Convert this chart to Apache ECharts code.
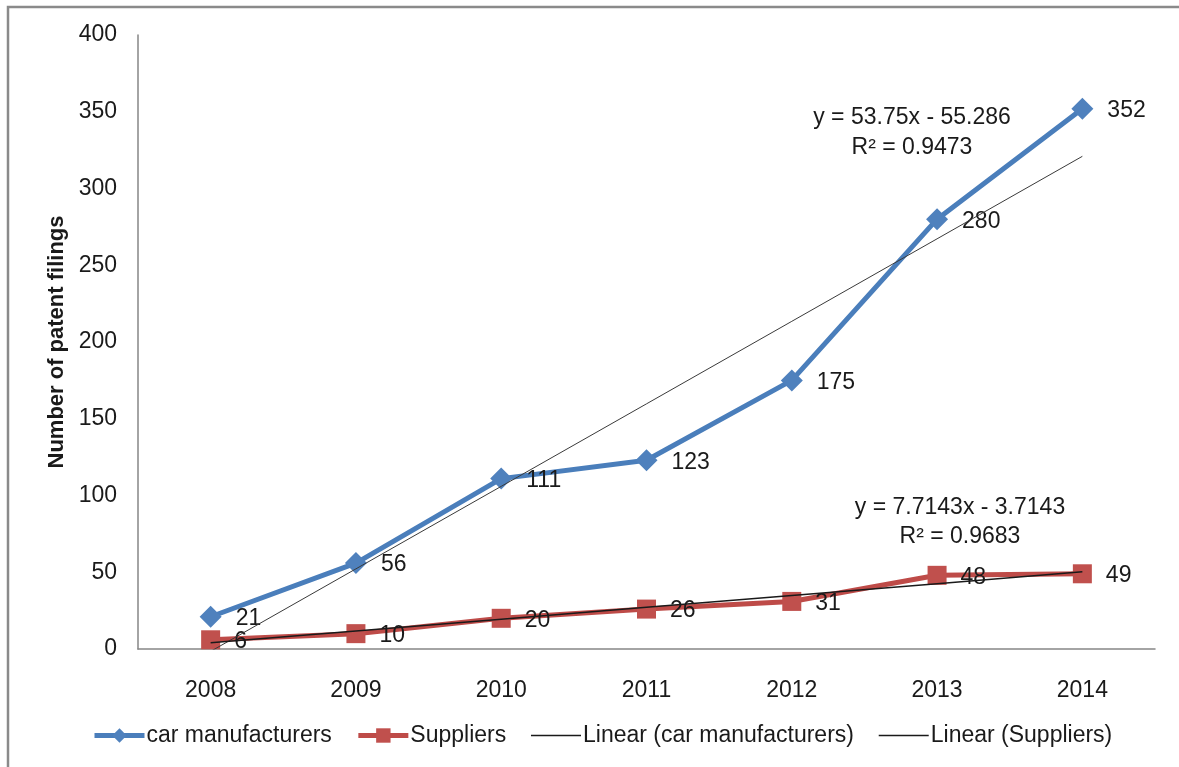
<!DOCTYPE html>
<html>
<head>
<meta charset="utf-8">
<script src="https://cdn.jsdelivr.net/npm/echarts@6/dist/echarts.min.js"></script>
<style>
html,body{margin:0;padding:0;background:#fff;}
#chart{width:1179px;height:767px;}
</style>
</head>
<body>
<div id="chart"></div>
<script>
const years = ['2008','2009','2010','2011','2012','2013','2014'];
const carManufacturers = [21, 56, 111, 123, 175, 280, 352];
const suppliers = [6, 10, 20, 26, 31, 48, 49];
const seriesNames = ['car manufacturers', 'Suppliers', 'Linear (car manufacturers)', 'Linear (Suppliers)'];
const carTrendText = ['y = 53.75x - 55.286', 'R² = 0.9473'];
const supTrendText = ['y = 7.7143x - 3.7143', 'R² = 0.9683'];
const yTicks = {min: 0, max: 400, interval: 50};

// least-squares linear trend (as the spreadsheet's "Linear" trendline)
function linearTrend(vals) {
  const n = vals.length;
  const xs = vals.map((_, i) => i + 1);
  const mx = xs.reduce((a, b) => a + b, 0) / n;
  const my = vals.reduce((a, b) => a + b, 0) / n;
  let sxy = 0, sxx = 0;
  xs.forEach((x, i) => { sxy += (x - mx) * (vals[i] - my); sxx += (x - mx) * (x - mx); });
  const slope = sxy / sxx;
  const icpt = my - slope * mx;
  return xs.map(x => slope * x + icpt);
}

const FONT = '"Liberation Sans", Arial, sans-serif';
const TXT = '#1a1a1a';
const BLUE = '#4A7EBB';
const RED = '#BE4B48';

const chart = echarts.init(document.getElementById('chart'));
const labelStyle = {show: true, position: 'right', distance: 14, offset: [0, 2], fontSize: 23, fontFamily: FONT, color: TXT};

chart.setOption({
  animation: false,
  backgroundColor: '#fff',
  grid: {left: 138, right: 24, top: 35, bottom: 118, containLabel: false},
  xAxis: {
    type: 'category',
    data: years,
    boundaryGap: true,
    axisLine: {show: true, lineStyle: {color: '#868686', width: 1.5}},
    axisTick: {show: false},
    axisLabel: {fontSize: 23, fontFamily: FONT, color: TXT, margin: 30},
    splitLine: {show: false}
  },
  yAxis: {
    type: 'value',
    min: yTicks.min, max: yTicks.max, interval: yTicks.interval,
    name: 'Number of patent filings',
    nameLocation: 'middle',
    nameRotate: 90,
    nameGap: 70,
    nameTextStyle: {fontSize: 22, fontWeight: 'bold', fontFamily: FONT, color: TXT},
    axisLine: {show: true, lineStyle: {color: '#868686', width: 1.5}},
    axisTick: {show: false},
    axisLabel: {fontSize: 23, fontFamily: FONT, color: TXT, margin: 21},
    splitLine: {show: false}
  },
  legend: {
    data: [
      {name: seriesNames[0], lineStyle: {width: 5}},
      {name: seriesNames[1], lineStyle: {width: 5}},
      {name: seriesNames[2], itemStyle: {opacity: 0}, lineStyle: {width: 1.5, color: '#1a1a1a'}},
      {name: seriesNames[3], itemStyle: {opacity: 0}, lineStyle: {width: 1.5, color: '#1a1a1a'}}
    ],
    left: 87,
    top: 719,
    itemWidth: 50,
    itemHeight: 18,
    itemGap: 24,
    textStyle: {fontSize: 23, fontFamily: FONT, color: TXT, padding: [0, 0, 0, -3]}
  },
  graphic: [
    {type: 'rect', shape: {x: 8, y: 7, width: 1400, height: 1000}, style: {fill: 'none', stroke: '#8a8a8a', lineWidth: 2.5}, silent: true, z: 100},
    {type: 'text', x: 912, y: 118, style: {text: carTrendText[0], font: '23px ' + FONT, fill: TXT, textAlign: 'center', textVerticalAlign: 'middle'}},
    {type: 'text', x: 912, y: 148, style: {text: carTrendText[1], font: '23px ' + FONT, fill: TXT, textAlign: 'center', textVerticalAlign: 'middle'}},
    {type: 'text', x: 960, y: 508, style: {text: supTrendText[0], font: '23px ' + FONT, fill: TXT, textAlign: 'center', textVerticalAlign: 'middle'}},
    {type: 'text', x: 960, y: 537, style: {text: supTrendText[1], font: '23px ' + FONT, fill: TXT, textAlign: 'center', textVerticalAlign: 'middle'}}
  ],
  series: [
    {
      name: seriesNames[0], type: 'line', data: carManufacturers,
      symbol: 'diamond', symbolSize: 22,
      lineStyle: {color: BLUE, width: 5},
      itemStyle: {color: '#4F81BD'},
      label: labelStyle, z: 3
    },
    {
      name: seriesNames[1], type: 'line', data: suppliers,
      symbol: 'rect', symbolSize: 19,
      lineStyle: {color: RED, width: 5},
      itemStyle: {color: '#C0504D'},
      label: labelStyle, z: 3
    },
    {
      name: seriesNames[2], type: 'line', data: linearTrend(carManufacturers),
      symbol: 'none', lineStyle: {color: '#3a3a3a', width: 1}, itemStyle: {color: '#3a3a3a'},
      z: 5, silent: true
    },
    {
      name: seriesNames[3], type: 'line', data: linearTrend(suppliers),
      symbol: 'none', lineStyle: {color: '#1a1a1a', width: 1.5}, itemStyle: {color: '#1a1a1a'},
      z: 5, silent: true
    }
  ]
});
</script>
</body>
</html>
